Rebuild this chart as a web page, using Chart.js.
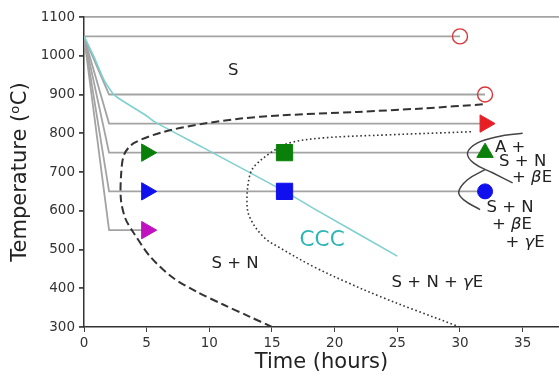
<!DOCTYPE html>
<html>
<head>
<meta charset="utf-8">
<script src="https://cdn.jsdelivr.net/npm/chart.js@4.4.1/dist/chart.umd.min.js"></script>
<style>
  html, body { margin: 0; padding: 0; background: #fff; }
  #wrap { width: 559px; height: 375px; }
</style>
</head>
<body>
<div id="wrap"><canvas id="chart"></canvas></div>
<script>
// ── hold paths (cooled from 1050, isothermal hold) ──────────────
const START_TEMP = 1050;
const HOLD_TEMP  = [1050, 900, 825, 750, 650, 550];
const HOLD_KINK  = [0, 2, 2, 2, 2, 2];
const HOLD_END   = [30, 32, 32, 32, 32, 5];

// ── CCC cooling curve ──────────────────────────────────────────
const CCC_T    = [0, 0.8, 1.6, 2.4, 3.6, 4.9, 5.6, 9.5, 16, 18.8, 25];
const CCC_TEMP = [1050, 997, 937, 899, 873, 847, 830, 763, 650, 597, 483];

// ── dashed C-curve (S + N boundary) ────────────────────────────
const DASH_T    = [15, 13.2, 11.1, 9, 7.1, 5.3, 3.9, 3.3, 2.95, 2.95, 3.2, 4.0, 6.4, 9.6, 12.5, 15.6, 21.8, 27, 32];
const DASH_TEMP = [300, 327, 358, 391, 427, 481, 546, 580, 628, 688, 745, 775, 804, 825, 838, 846, 855, 864, 875];

// ── dotted C-curve (γE boundary) ───────────────────────────────
const DOT_T    = [30, 26.3, 23.6, 21, 18.3, 15.6, 14.3, 13.2, 13, 13.2, 13.6, 15, 16.4, 19.1, 24.4, 31];
const DOT_TEMP = [300, 345, 379, 415, 456, 505, 533, 585, 628, 688, 715, 752, 775, 788, 796, 804];

// ── solid boundaries on the right ──────────────────────────────
const UPPER_T    = [35, 33, 31.4, 30.6, 31.1, 32.6, 34.2];
const UPPER_TEMP = [800, 791, 775, 749, 723, 698, 672];
const LOWER_T    = [32, 30.6, 29.9, 30.3, 31.6];
const LOWER_TEMP = [706, 680, 649, 628, 603];

// ── markers ────────────────────────────────────────────────────
const OPEN_T    = [30, 32];
const OPEN_TEMP = [1050, 900];
const TRIR_T    = [32, 5, 5, 5];
const TRIR_TEMP = [825, 750, 650, 550];
const SQ_T      = [16, 16];
const SQ_TEMP   = [750, 650];
const TRIU_T    = [32];
const TRIU_TEMP = [750];
const BALL_T    = [32];
const BALL_TEMP = [650];

// ── region labels ──────────────────────────────────────────────
const LABEL_TEXT = ["S", "S + N", "S + N + γE", "CCC", "A +", "S + N", "+ βE", "S + N", "+ βE", "+ γE"];
const LABEL_T    = [11.9, 12.05, 28.2, 19.0, 34.0, 35.0, 35.75, 34.0, 34.15, 35.2];
const LABEL_TEMP = [961, 463, 414, 523, 762, 726, 685, 608, 564, 518];

// ── axes ───────────────────────────────────────────────────────
const X_MIN = 0, X_MAX = 37.9;
const X_TICKS = [0, 5, 10, 15, 20, 25, 30, 35];
const Y_MIN = 300, Y_MAX = 1100, Y_STEP = 100;

const GRAY = "#a3a3a3";
const zip = (xs, ys) => xs.map((x, i) => ({ x, y: ys[i] }));

function holdPath(i) {
  const pts = [{ x: 0, y: START_TEMP }];
  if (HOLD_KINK[i] > 0) pts.push({ x: HOLD_KINK[i], y: HOLD_TEMP[i] });
  pts.push({ x: HOLD_END[i], y: HOLD_TEMP[i] });
  return pts;
}

Chart.defaults.font.family = "'DejaVu Sans', sans-serif";
Chart.defaults.color = "#333";

const markerSets = [
  { data: zip(BALL_T, BALL_TEMP), pointStyle: "circle", pointRadius: 7.5,
    pointBackgroundColor: "#1010ee", pointBorderColor: "#1010ee" },
  { data: zip(TRIU_T, TRIU_TEMP), pointStyle: "triangle", pointRadius: 9.5,
    pointBackgroundColor: "#0a800a", pointBorderColor: "#0a800a" },
  { data: zip(SQ_T, SQ_TEMP), pointStyle: "rect", pointRadius: 11.5,
    pointBackgroundColor: ["#0a800a", "#1010ee"], pointBorderColor: ["#0a800a", "#1010ee"] },
  { data: zip(TRIR_T, TRIR_TEMP), pointStyle: "triangle", pointRadius: 10, pointRotation: 90,
    pointBackgroundColor: ["#e81e25", "#0a800a", "#1010ee", "#c010c0"],
    pointBorderColor: ["#e81e25", "#0a800a", "#1010ee", "#c010c0"] },
  { data: zip(OPEN_T, OPEN_TEMP), pointStyle: "circle", pointRadius: 7.5,
    pointBackgroundColor: "rgba(0,0,0,0)", pointBorderColor: "#d9363a", pointBorderWidth: 1.4 },
].map(d => Object.assign({ showLine: false, pointHoverRadius: d.pointRadius }, d));

const lineSets = [
  { data: zip(UPPER_T, UPPER_TEMP), borderColor: "#444", borderWidth: 1.5, tension: 0.4 },
  { data: zip(LOWER_T, LOWER_TEMP), borderColor: "#444", borderWidth: 1.5, tension: 0.4 },
  { data: zip(DASH_T, DASH_TEMP), borderColor: "#333", borderWidth: 2, borderDash: [8, 4], tension: 0.3 },
  { data: zip(DOT_T, DOT_TEMP), borderColor: "#333", borderWidth: 1.6, borderDash: [1.6, 2.6], tension: 0.35 },
  { data: zip(CCC_T, CCC_TEMP), borderColor: "#7fd0d0", borderWidth: 1.6, tension: 0.2 },
  ...HOLD_TEMP.map((_, i) => ({ data: holdPath(i), borderColor: GRAY, borderWidth: 1.8, tension: 0 })),
].map(d => Object.assign({ showLine: true, pointRadius: 0, pointHoverRadius: 0, fill: false }, d));

// draw text with Greek letters in italic, centred on (cx, cy)
function drawMixed(ctx, text, cx, cy, size, color) {
  const parts = text.split(/([βγ])/).filter(s => s.length);
  const fontFor = s => (/[βγ]/.test(s) ? "italic " : "") + size + "px 'DejaVu Sans', sans-serif";
  let total = 0;
  parts.forEach(p => { ctx.font = fontFor(p); total += ctx.measureText(p).width; });
  let x = cx - total / 2;
  ctx.fillStyle = color;
  ctx.textAlign = "left";
  ctx.textBaseline = "middle";
  parts.forEach(p => {
    ctx.font = fontFor(p);
    ctx.fillText(p, x, cy);
    x += ctx.measureText(p).width;
  });
}

const labelPlugin = {
  id: "regionLabels",
  afterDatasetsDraw(chart) {
    const { ctx, scales: { x, y } } = chart;
    ctx.save();
    LABEL_TEXT.forEach((t, i) => {
      const isCCC = t === "CCC";
      drawMixed(ctx, t, x.getPixelForValue(LABEL_T[i]), y.getPixelForValue(LABEL_TEMP[i]),
        isCCC ? 21.5 : 16.5, isCCC ? "#2fb5b5" : "#222");
    });
    ctx.restore();
  }
};

new Chart(document.getElementById("chart"), {
  type: "scatter",
  data: { datasets: [...markerSets, ...lineSets] },
  options: {
    responsive: true,
    maintainAspectRatio: false,
    animation: false,
    events: [],
    layout: { autoPadding: false, padding: { top: 17, right: 0, left: 0, bottom: 0 } },
    plugins: { legend: { display: false }, tooltip: { enabled: false } },
    scales: {
      x: {
        type: "linear", min: X_MIN, max: X_MAX,
        ticks: { font: { size: 13.5 }, color: "#333", padding: 3, maxRotation: 0, autoSkip: false },
        afterBuildTicks: s => { s.ticks = X_TICKS.map(v => ({ value: v })); },
        afterFit: s => { s.height = 48; s.paddingLeft = 0; s.paddingRight = 0; },
        grid: { color: "rgba(0,0,0,0)", tickColor: "#444", tickLength: 5, drawTicks: true },
        border: { color: "#333", width: 1.5 },
        title: { display: true, text: "Time (hours)", font: { size: 21 }, color: "#222", padding: { top: 0, bottom: 0 } }
      },
      y: {
        type: "linear", min: Y_MIN, max: Y_MAX,
        ticks: { stepSize: Y_STEP, font: { size: 13.5 }, color: "#333", padding: 4, callback: v => String(v) },
        afterFit: s => { s.width = 84; },
        grid: {
          color: c => (c.tick && c.tick.value === Y_MAX ? GRAY : "rgba(0,0,0,0)"),
          lineWidth: 1.8, tickColor: "#444", tickLength: 5, drawTicks: true
        },
        border: { color: "#333", width: 1.5 },
        title: { display: true, text: "Temperature (ᵒC)", font: { size: 21 }, color: "#222", padding: { top: 8, bottom: 0 } }
      }
    }
  },
  plugins: [labelPlugin]
});
</script>
</body>
</html>
